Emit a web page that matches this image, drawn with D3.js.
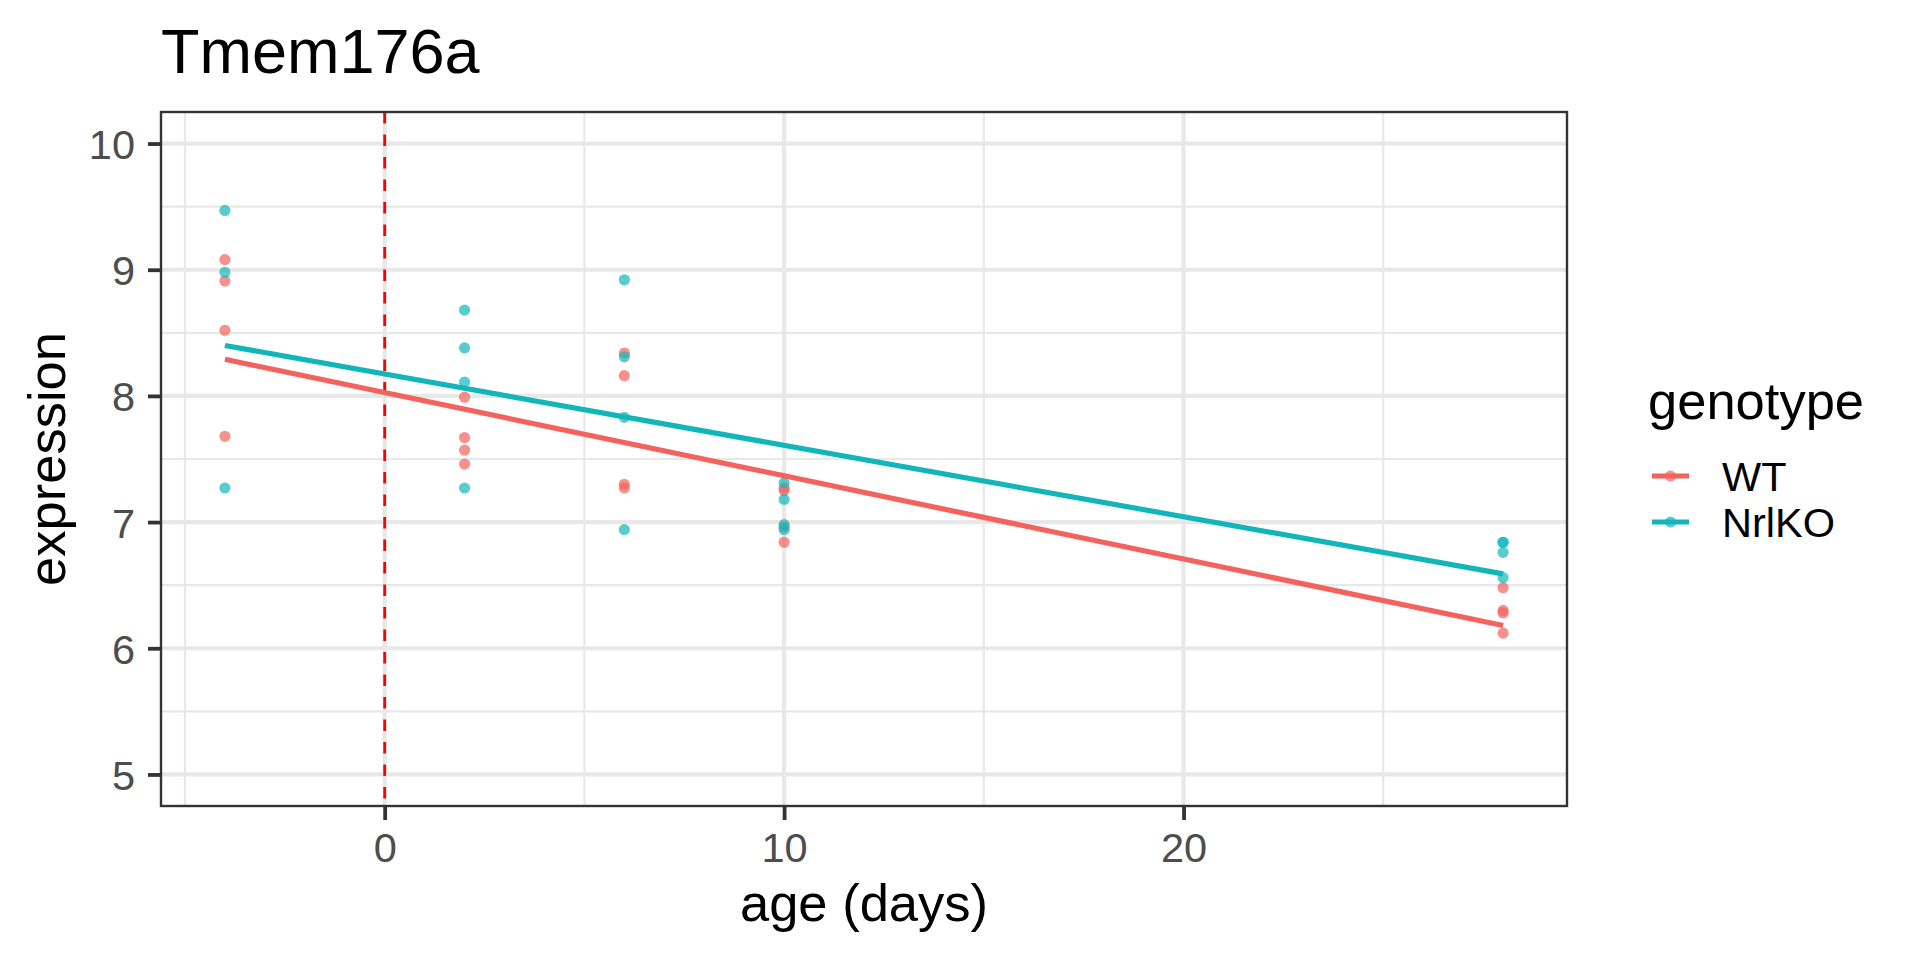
<!DOCTYPE html>
<html>
<head>
<meta charset="utf-8">
<script src="https://cdn.jsdelivr.net/npm/d3@7"></script>
<style>
  html, body { margin: 0; padding: 0; background: #fff; }
  svg text { font-family: "Liberation Sans", Arial, sans-serif; }
</style>
</head>
<body>
<div id="chart"></div>
<script>
// Values
const genotypes = ['WT', 'NrlKO'];
const ages = [-4, 2, 6, 10, 28];

// expression per age group, same order as `ages`
const wtExpression = [
  [9.08, 8.91, 8.52, 7.68],
  [7.99, 7.67, 7.57, 7.46],
  [8.34, 8.16, 7.30, 7.27],
  [7.27, 7.25, 6.96, 6.84],
  [6.48, 6.30, 6.28, 6.12]
];
const koExpression = [
  [9.47, 8.98, 7.27],
  [8.68, 8.38, 8.11, 7.27],
  [8.92, 8.31, 7.83, 6.94],
  [7.31, 7.18, 6.98, 6.94],
  [6.84, 6.84, 6.76, 6.56]
];

// fitted lm lines, endpoints at min / max age
const fitAges = [-4, 28];
const wtFit = [8.29, 6.18];
const koFit = [8.40, 6.59];

const yTicks = [5, 6, 7, 8, 9, 10];
const yMinor = [5.5, 6.5, 7.5, 8.5, 9.5];
const xTicks = [0, 10, 20];
const xMinor = [-5, 5, 15, 25];
const vlineAge = 0;

const W = 1920, H = 960;
const margin = { top: 112, right: 353, bottom: 154, left: 161 };
const width = W - margin.left - margin.right;
const height = H - margin.top - margin.bottom;

const colors = d3.scaleOrdinal()
    .domain(genotypes)
    .range(['#f4625d', '#12b6ba']);

const svg = d3.select('#chart')
    .append('svg')
    .attr('width', W)
    .attr('height', H);

const g = svg.append('g')
    .attr('transform', `translate(${margin.left},${margin.top})`);

const x = d3.scaleLinear().domain([-5.6, 29.6]).range([0, width]);
const y = d3.scaleLinear().domain([4.75, 10.25]).range([height, 0]);

// Grid
const grid = g.append('g').attr('stroke', '#e8e8e8');
grid.selectAll('.ymin').data(yMinor).join('line')
    .attr('x1', 0).attr('x2', width)
    .attr('y1', d => y(d)).attr('y2', d => y(d))
    .attr('stroke-width', 2.2);
grid.selectAll('.xmin').data(xMinor).join('line')
    .attr('y1', 0).attr('y2', height)
    .attr('x1', d => x(d)).attr('x2', d => x(d))
    .attr('stroke-width', 2.2);
grid.selectAll('.ymaj').data(yTicks).join('line')
    .attr('x1', 0).attr('x2', width)
    .attr('y1', d => y(d)).attr('y2', d => y(d))
    .attr('stroke-width', 4.2);
grid.selectAll('.xmaj').data(xTicks).join('line')
    .attr('y1', 0).attr('y2', height)
    .attr('x1', d => x(d)).attr('x2', d => x(d))
    .attr('stroke-width', 4.2);

// Dashed reference line
g.append('line')
    .attr('x1', x(vlineAge)).attr('x2', x(vlineAge))
    .attr('y1', 0).attr('y2', height)
    .attr('stroke', '#ff0000')
    .attr('stroke-width', 2.8)
    .attr('stroke-dasharray', '11.5,11');

// Points
const points = [];
ages.forEach((age, i) => {
    wtExpression[i].forEach(v => points.push({ age, value: v, genotype: 'WT' }));
    koExpression[i].forEach(v => points.push({ age, value: v, genotype: 'NrlKO' }));
});

g.append('g').selectAll('circle')
    .data(points)
    .join('circle')
    .attr('cx', d => x(d.age))
    .attr('cy', d => y(d.value))
    .attr('r', 5.6)
    .attr('fill', d => colors(d.genotype))
    .attr('fill-opacity', 0.7);

// Fit lines
const fits = [
    { genotype: 'WT', values: fitAges.map((a, i) => ({ age: a, value: wtFit[i] })) },
    { genotype: 'NrlKO', values: fitAges.map((a, i) => ({ age: a, value: koFit[i] })) }
];
const line = d3.line().x(d => x(d.age)).y(d => y(d.value));
g.append('g').selectAll('path')
    .data(fits)
    .join('path')
    .attr('d', d => line(d.values))
    .attr('fill', 'none')
    .attr('stroke', d => colors(d.genotype))
    .attr('stroke-width', 5.2);

// Panel border
g.append('rect')
    .attr('width', width).attr('height', height)
    .attr('fill', 'none')
    .attr('stroke', '#333333')
    .attr('stroke-width', 2.4);

// Axes
const styleAxis = sel => {
    sel.select('.domain').remove();
    sel.selectAll('.tick line').attr('stroke', '#333333').attr('stroke-width', 3.8);
    sel.selectAll('.tick text')
        .attr('fill', '#4d4d4d')
        .style('font-size', '41.5px');
};

g.append('g')
    .call(d3.axisLeft(y).tickValues(yTicks).tickFormat(d3.format('d')).tickSize(13).tickPadding(13))
    .call(styleAxis)
    .call(a => a.selectAll('.tick text').attr('dy', '0.36em'));

g.append('g')
    .attr('transform', `translate(0,${height})`)
    .call(d3.axisBottom(x).tickValues(xTicks).tickFormat(d3.format('d')).tickSize(14).tickPadding(12))
    .call(styleAxis)
    .call(a => a.selectAll('.tick text').attr('dy', '0.72em'));

// Titles
svg.append('text')
    .attr('x', margin.left)
    .attr('y', 73)
    .style('font-size', '63px')
    .attr('fill', '#000')
    .text('Tmem176a');

svg.append('text')
    .attr('x', margin.left + width / 2)
    .attr('y', 921)
    .attr('text-anchor', 'middle')
    .style('font-size', '52.5px')
    .attr('fill', '#000')
    .text('age (days)');

svg.append('text')
    .attr('transform', `translate(65,${margin.top + height / 2}) rotate(-90)`)
    .attr('text-anchor', 'middle')
    .style('font-size', '52.5px')
    .attr('fill', '#000')
    .text('expression');

// Legend
const legend = svg.append('g').attr('transform', 'translate(1648,0)');
legend.append('text')
    .attr('x', 0).attr('y', 419)
    .style('font-size', '52.5px')
    .attr('fill', '#000')
    .text('genotype');

genotypes.forEach((gt, i) => {
    const row = legend.append('g').attr('transform', `translate(0,${476 + i * 46})`);
    row.append('line')
        .attr('x1', 4).attr('x2', 41)
        .attr('stroke', colors(gt))
        .attr('stroke-width', 5.2);
    row.append('circle')
        .attr('cx', 22.5).attr('r', 5.6)
        .attr('fill', colors(gt))
        .attr('fill-opacity', 0.7);
    row.append('text')
        .attr('x', 74).attr('y', 0)
        .attr('dy', '0.36em')
        .style('font-size', '41.5px')
        .attr('fill', '#000')
        .text(gt);
});
</script>
</body>
</html>
